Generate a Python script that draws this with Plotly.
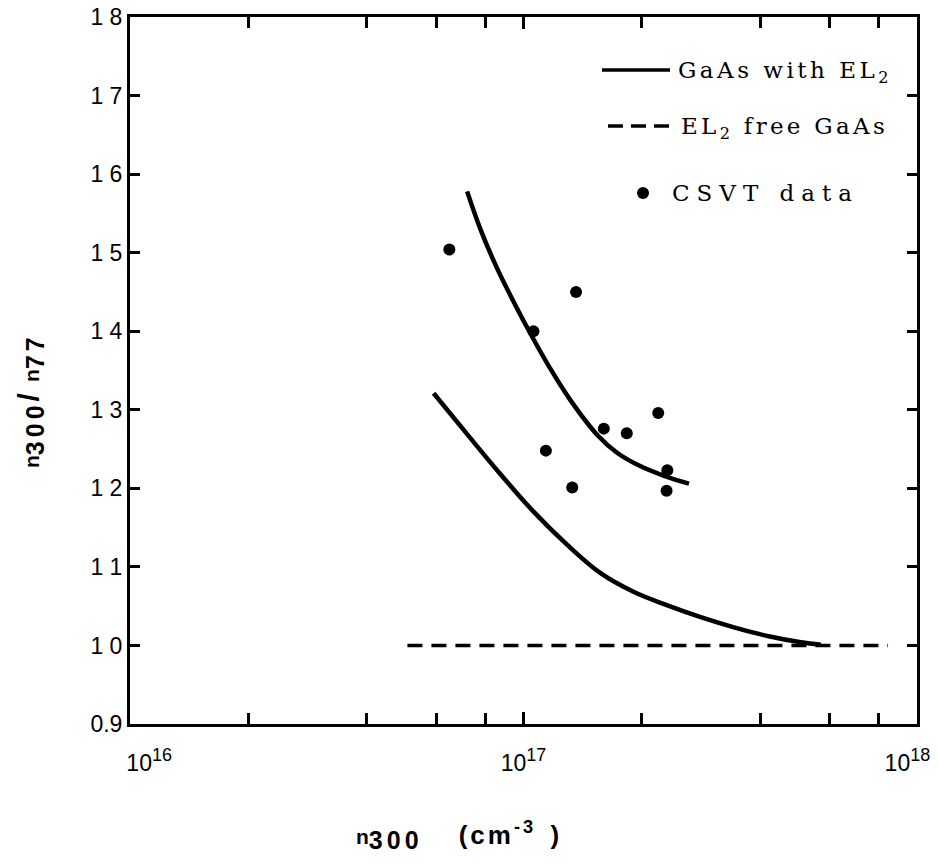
import plotly.graph_objects as go

# CSVT data points
csvt_x = [6.48e16, 1.36e17, 1.06e17, 2.20e17, 1.60e17, 1.83e17, 1.14e17, 1.33e17, 2.32e17, 2.31e17]
csvt_y = [1.504, 1.450, 1.400, 1.296, 1.276, 1.270, 1.248, 1.201, 1.223, 1.197]

# Upper theory curve (GaAs with EL2)
upper_x = [7.19e16, 7.77e16, 8.57e16, 9.45e16, 1.052e17, 1.171e17, 1.317e17, 1.540e17,
           1.732e17, 1.985e17, 2.275e17, 2.634e17]
upper_y = [1.578, 1.530, 1.480, 1.437, 1.393, 1.352, 1.312, 1.268, 1.245, 1.228, 1.216, 1.206]

# Lower theory curve (GaAs with EL2)
lower_x = [5.91e16, 7.19e16, 8.74e16, 1.062e17, 1.292e17, 1.570e17, 1.909e17, 2.321e17,
           2.821e17, 3.428e17, 4.170e17, 5.068e17, 5.70e17]
lower_y = [1.321, 1.269, 1.218, 1.170, 1.128, 1.092, 1.068, 1.051, 1.036, 1.023, 1.012, 1.004, 1.001]

# EL2-free GaAs
free_x = [5.07e16, 8.44e17]
free_y = [1.0, 1.0]

y_ticks = [0.9, 1.0, 1.1, 1.2, 1.3, 1.4, 1.5, 1.6, 1.7, 1.8]
y_ticktext = ["0.9", "1 0", "1 1", "1 2", "1 3", "1 4", "1 5", "1 6", "1 7", "1 8"]
x_ticks = [1e16, 1e17, 1e18]
SUP = "<sup><span style='font-size:18px'>{}</span></sup>"
x_ticktext = ["\u00a0" * 6 + "10" + SUP.format("16"),
              "10" + SUP.format("17"),
              "10" + SUP.format("18") + "\u00a0" * 3]
x_minor = [2e16, 4e16, 6e16, 8e16, 2e17, 4e17, 6e17, 8e17]

fig = go.Figure()
fig.add_trace(go.Scatter(x=upper_x, y=upper_y, mode="lines",
                         line=dict(color="black", width=4.5, shape="spline", smoothing=1.0)))
fig.add_trace(go.Scatter(x=lower_x, y=lower_y, mode="lines",
                         line=dict(color="black", width=4.5, shape="spline", smoothing=1.0)))
fig.add_trace(go.Scatter(x=free_x, y=free_y, mode="lines",
                         line=dict(color="black", width=3.5, dash="15px,9px")))
fig.add_trace(go.Scatter(x=csvt_x, y=csvt_y, mode="markers",
                         marker=dict(color="black", size=12)))

W, H = 938, 863
L, R, T, B = 130, 21, 17, 139
pw, ph = W - L - R, H - T - B

def px(x):
    return (x - L) / pw

def py(y):
    return (H - B - y) / ph

shapes = []
# legend samples
shapes.append(dict(type="line", xref="paper", yref="paper", x0=px(602), x1=px(670),
                   y0=py(70), y1=py(70), line=dict(color="black", width=3.5)))
shapes.append(dict(type="line", xref="paper", yref="paper", x0=px(608), x1=px(670),
                   y0=py(126), y1=py(126), line=dict(color="black", width=3.5, dash="15px,8px")))
shapes.append(dict(type="circle", xref="paper", yref="paper", x0=px(637), x1=px(649),
                   y0=py(187), y1=py(199), fillcolor="black", line=dict(color="black", width=0)))

serif = "DejaVu Serif, Liberation Serif, serif"
sans = "Liberation Sans, Arial, sans-serif"
annotations = [
    dict(text="<span style='letter-spacing:3.5px'>GaAs with EL<sub>2</sub></span>", x=px(676), y=py(72),
         xref="paper", yref="paper", xanchor="left", yanchor="middle", showarrow=False,
         font=dict(family=serif, size=23, color="black")),
    dict(text="<span style='letter-spacing:3.3px'>EL<sub>2</sub> free GaAs</span>", x=px(679), y=py(128),
         xref="paper", yref="paper", xanchor="left", yanchor="middle", showarrow=False,
         font=dict(family=serif, size=23, color="black")),
    dict(text="<span style='letter-spacing:7px'>CSVT data</span>", x=px(670), y=py(193),
         xref="paper", yref="paper", xanchor="left", yanchor="middle", showarrow=False,
         font=dict(family=serif, size=23, color="black")),
    dict(text="<b><span style='font-size:21px'>n</span><sub><span style='font-size:25px;letter-spacing:4px'>300</span></sub>"
              "\u00a0\u00a0\u00a0\u00a0\u00a0<span style='letter-spacing:3px'>(cm</span>"
              "<sup><span style='letter-spacing:3px'>-3</span></sup>\u00a0\u00a0)</b>",
         x=px(457), y=py(836), xref="paper", yref="paper",
         xanchor="center", yanchor="middle", showarrow=False,
         font=dict(family=sans, size=26, color="black")),
    dict(text="<b><span style='font-size:21px'>n</span><sub><span style='font-size:25px;letter-spacing:4px'>300</span></sub>"
              "<span style='font-size:30px;letter-spacing:4px'>/</span>\u00a0<span style='font-size:21px'>n</span>"
              "<sub><span style='font-size:25px;letter-spacing:4px'>77</span></sub></b>",
         x=px(30), y=py(401), xref="paper", yref="paper",
         xanchor="center", yanchor="middle", textangle=-90, showarrow=False,
         font=dict(family=sans, size=26, color="black")),
]

fig.update_layout(
    width=W, height=H,
    margin=dict(l=L, r=R, t=T, b=B, autoexpand=False),
    paper_bgcolor="white", plot_bgcolor="white",
    showlegend=False,
    shapes=shapes,
    annotations=annotations,
    font=dict(family=sans, color="black"),
)
fig.update_xaxes(type="log", range=[16, 18], showgrid=False, zeroline=False, automargin=False,
                 showline=True, linewidth=3, linecolor="black", mirror="ticks",
                 ticks="inside", ticklen=12, tickwidth=3, tickcolor="black",
                 tickvals=x_ticks, ticktext=x_ticktext, ticklabelstandoff=16,
                 ticklabeloverflow="allow",
                 tickfont=dict(family=sans, size=23, color="black"),
                 minor=dict(tickvals=x_minor, ticks="inside", ticklen=11, tickwidth=3,
                            tickcolor="black", showgrid=False))
fig.update_yaxes(range=[0.9, 1.8], showgrid=False, zeroline=False, automargin=False,
                 showline=True, linewidth=3, linecolor="black", mirror="ticks",
                 ticks="inside", ticklen=10, tickwidth=3, tickcolor="black",
                 tickvals=y_ticks, ticktext=y_ticktext,
                 tickfont=dict(family=sans, size=23, color="black"))

fig.write_html("out.html")
